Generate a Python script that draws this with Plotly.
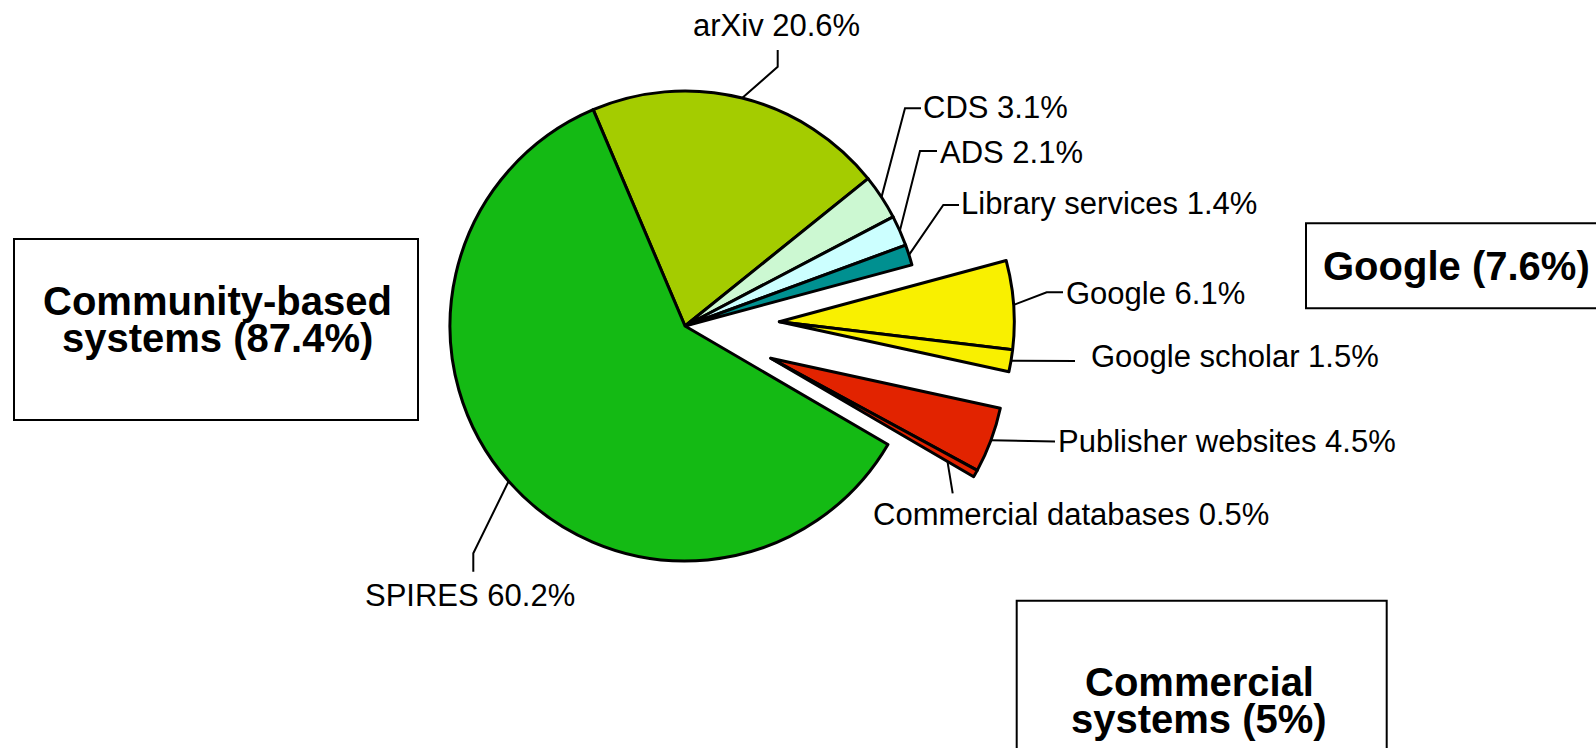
import math
import plotly.graph_objects as go

W, H = 1596, 748

# ---------------- data ----------------
labels = ["arXiv", "CDS", "ADS", "Library services", "Google", "Google scholar",
          "Publisher websites", "Commercial databases", "SPIRES"]
values = [20.6, 3.1, 2.1, 1.4, 6.1, 1.5, 4.5, 0.5, 60.2]
groups = ["community", "community", "community", "community", "google", "google",
          "commercial", "commercial", "community"]
colors = ["#A4CC00", "#CCF8D2", "#CCFFFF", "#009090", "#F9F000", "#F9F000",
          "#E22300", "#E22300", "#14BA14"]
group_names = {"community": ["Community-based", "systems"],
               "google": ["Google"],
               "commercial": ["Commercial", "systems"]}

# ---------------- layout constants ----------------
ROT = -23
R = 235
centers = {"community": (685, 326), "google": (779.3, 321.7), "commercial": (770.7, 358.3)}
FONT = "Liberation Sans, Arial, sans-serif"

# leader waypoints (after the start on the slice), text position, anchor, start radius factor
label_layout = {
    "arXiv": ([(777.7, 66.7), (777.7, 50)], (776.7, 25), "center", 1.0),
    "CDS": ([(905, 108.3), (921, 108.3)], (921, 107.5), "left", 1.0),
    "ADS": ([(920, 151), (937, 151)], (938, 152.5), "left", 1.0),
    "Library services": ([(943.3, 205), (959, 205)], (959, 203.5), "left", 1.0),
    "Google": ([(1046.7, 292.3), (1063, 292.3)], (1063.5, 293), "left", 1.0),
    "Google scholar": ([(1075, 361)], (1089, 356), "left", 1.0),
    "Publisher websites": ([(1055, 441.5)], (1056, 441), "left", 1.0),
    "Commercial databases": ([(952.7, 493.3)], (1071, 514), "center", 0.86),
    "SPIRES": ([(473.3, 553.3), (473.3, 571.7)], (470, 595.5), "center", 1.0),
}

total = sum(values)


def domain(cx, cy):
    return dict(x=[(cx - R) / W, (cx + R) / W], y=[(H - cy - R) / H, (H - cy + R) / H])


fig = go.Figure()

# leader lines (drawn under the pies, in pixel coordinates of hidden axes)
lx, ly = [], []
cum = 0.0
for lab, v, g in zip(labels, values, groups):
    mid = math.radians(ROT + 360.0 * (cum + v / 2.0) / total)
    cum += v
    pts, _, _, f = label_layout[lab]
    cx, cy = centers[g]
    sx, sy = cx + f * R * math.sin(mid), cy - f * R * math.cos(mid)
    lx += [sx] + [p[0] for p in pts] + [None]
    ly += [sy] + [p[1] for p in pts] + [None]

fig.add_trace(go.Scatter(x=lx, y=ly, mode="lines", line=dict(color="black", width=2),
                         hoverinfo="skip", showlegend=False))

# one pie per group (the other slices are transparent) so that groups are exploded together
for g in ["community", "google", "commercial"]:
    cols = [c if gg == g else "rgba(0,0,0,0)" for c, gg in zip(colors, groups)]
    lws = [3 if gg == g else 0 for gg in groups]
    fig.add_trace(go.Pie(
        labels=labels, values=values, sort=False, direction="clockwise", rotation=ROT,
        marker=dict(colors=cols, line=dict(color="black", width=lws)),
        textinfo="none", hoverinfo="label+percent", showlegend=False,
        domain=domain(*centers[g]),
    ))

annotations = []
for lab, v in zip(labels, values):
    _, (tx, ty), anc, _ = label_layout[lab]
    annotations.append(dict(x=tx, y=ty, xref="x", yref="y", text=f"{lab} {v:g}%",
                            showarrow=False, xanchor=anc, yanchor="middle",
                            font=dict(family=FONT, size=31, color="black")))

# group summary boxes
sums = {g: sum(v for v, gg in zip(values, groups) if gg == g) for g in group_names}
shapes = [
    dict(type="rect", xref="x", yref="y", x0=14, y0=239, x1=418, y1=420,
         line=dict(color="black", width=2), fillcolor="white", layer="below"),
    dict(type="rect", xref="x", yref="y", x0=1306, y0=223.3, x1=1620, y1=308.3,
         line=dict(color="black", width=2), fillcolor="white", layer="below"),
    dict(type="rect", xref="x", yref="y", x0=1016.7, y0=600.7, x1=1386.7, y1=780,
         line=dict(color="black", width=2), fillcolor="white", layer="below"),
]
bold = dict(family=FONT, size=40, color="black")
annotations += [
    dict(x=217, y=301, xref="x", yref="y", text=f"<b>{group_names['community'][0]}</b>",
         showarrow=False, xanchor="center", yanchor="middle", font=bold),
    dict(x=217, y=338, xref="x", yref="y",
         text=f"<b>{group_names['community'][1]} ({sums['community']:.1f}%)</b>",
         showarrow=False, xanchor="center", yanchor="middle", font=bold),
    dict(x=1321, y=266, xref="x", yref="y",
         text=f"<b>{group_names['google'][0]} ({sums['google']:.1f}%)</b>",
         showarrow=False, xanchor="left", yanchor="middle", font=bold),
    dict(x=1199, y=682, xref="x", yref="y", text=f"<b>{group_names['commercial'][0]}</b>",
         showarrow=False, xanchor="center", yanchor="middle", font=bold),
    dict(x=1199, y=719, xref="x", yref="y",
         text=f"<b>{group_names['commercial'][1]} ({sums['commercial']:g}%)</b>",
         showarrow=False, xanchor="center", yanchor="middle", font=bold),
]

fig.update_layout(
    width=W, height=H,
    margin=dict(l=0, r=0, t=0, b=0, pad=0),
    paper_bgcolor="white", plot_bgcolor="white",
    xaxis=dict(range=[0, W], visible=False, fixedrange=True),
    yaxis=dict(range=[H, 0], visible=False, fixedrange=True),
    shapes=shapes, annotations=annotations, showlegend=False,
)

fig.write_html(
    "out.html",
    config={"displayModeBar": False},
    post_script=("document.documentElement.style.margin='0';"
                 "document.body.style.margin='0';document.body.style.padding='0';"
                 "document.body.style.overflow='hidden';"
                 "document.documentElement.style.overflow='hidden';"),
)
